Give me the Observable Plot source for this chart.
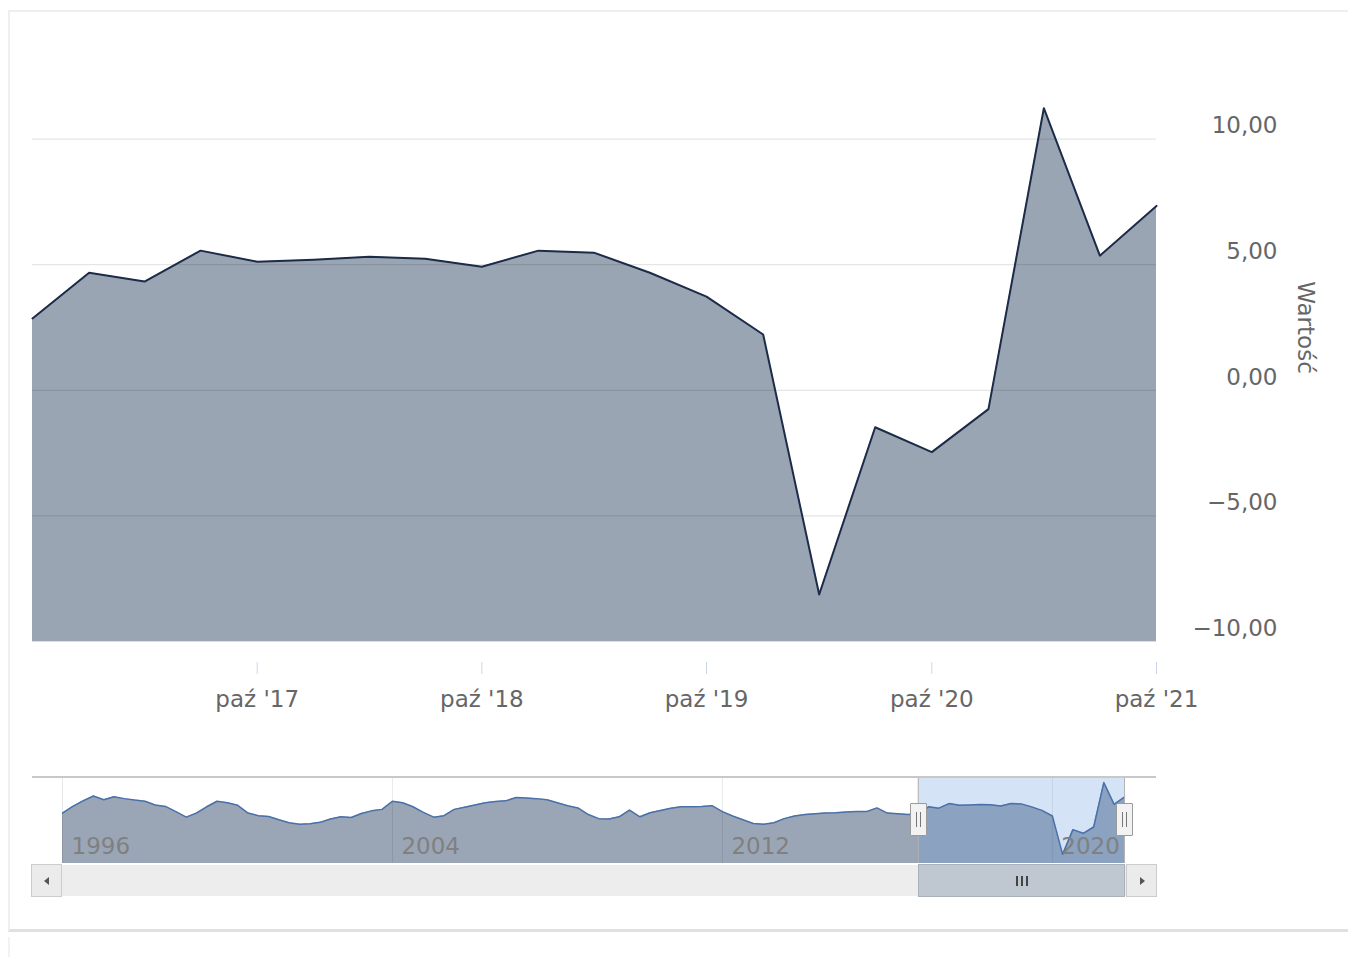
<!DOCTYPE html>
<html><head><meta charset="utf-8">
<script src="https://cdn.jsdelivr.net/npm/d3@7"></script>
<script src="https://cdn.jsdelivr.net/npm/@observablehq/plot@0.6"></script>
<style>
body{margin:0;background:#fff;font-family:"DejaVu Sans",sans-serif;}
#wrap{position:relative;width:1348px;height:957px;overflow:hidden;}
.abs{position:absolute;box-sizing:border-box;}
</style></head><body><div id="wrap">
<div class="abs" style="left:8px;top:10px;width:1400px;height:922px;border-left:2px solid #efefef;border-top:2px solid #efefef;border-bottom:3px solid #e0e0e0;"></div>
<div class="abs" style="left:8px;top:937px;width:1400px;height:40px;border-left:2px solid #f2f2f2;"></div>
<div id="main" class="abs" style="left:0;top:0"></div>
<div id="nav" class="abs" style="left:0;top:770px"></div>
<div id="chrome"></div>
</div>
<script>
// ---- main series (quarterly, y/y) ----
const mainQuarters = ["2016-10-01","2017-01-01","2017-04-01","2017-07-01","2017-10-01","2018-01-01","2018-04-01","2018-07-01","2018-10-01","2019-01-01","2019-04-01","2019-07-01","2019-10-01","2020-01-01","2020-04-01","2020-07-01","2020-10-01","2021-01-01","2021-04-01","2021-07-01","2021-10-01"];
const mainValues = [2.86,4.68,4.33,5.56,5.12,5.2,5.32,5.24,4.92,5.56,5.48,4.68,3.73,2.22,-8.13,-1.47,-2.46,-0.75,11.23,5.36,7.34];
const yTicks = [-10,-5,0,5,10];
const xTickDates = ["2017-10-01","2018-10-01","2019-10-01","2020-10-01","2021-10-01"];
const yTitle = "Wartość";

// ---- navigator history (quarterly from 1996 Q1 up to 2016 Q3) ----
const navStart = "1996-01-01";
const navValues = [
  3.0,4.8,6.3,7.6, 6.6,7.4,6.9,6.5, 6.2,5.2,4.8,3.4, 1.9,3.0,4.7,6.2,
  5.8,5.1,3.0,2.3, 2.1,1.2,0.4,0.0, 0.1,0.5,1.4,2.0, 1.8,2.9,3.6,4.0,
  6.2,5.8,4.7,3.2, 1.9,2.3,4.0,4.6, 5.2,5.8,6.1,6.3, 7.2,7.1,6.9,6.6,
  5.8,5.0,4.4,2.6, 1.5,1.4,2.0,3.8, 2.0,3.1,3.7,4.3, 4.7,4.7,4.8,5.0,
  3.4,2.2,1.2,0.2, 0.0,0.4,1.5,2.2, 2.6,2.8,3.0,3.1, 3.3,3.4,3.4,4.4,
  3.0,2.8,2.6
];
const navYearLabels = ["1996","2004","2012","2020"];

const fmtY = d => (d < 0 ? "\u2212" : "") + Math.abs(d).toFixed(2).replace(".", ",");
const fmtX = d => "paź '" + String(d.getUTCFullYear()).slice(2);

const mainData = mainQuarters.map((q, i) => ({date: new Date(q), value: mainValues[i]}));
const xTicks = xTickDates.map(d => new Date(d));
const font = '"DejaVu Sans", sans-serif';

const main = Plot.plot({
  width: 1348, height: 730,
  marginLeft: 32, marginRight: 192, marginTop: 13, marginBottom: 89,
  style: {fontFamily: font, fontSize: "23px", color: "#666", background: "transparent", overflow: "visible"},
  x: {type: "utc", domain: [mainData[0].date, mainData[mainData.length - 1].date], label: null},
  y: {domain: [-10, 15], label: null},
  marks: [
    Plot.areaY(mainData, {x: "date", y1: -10, y2: "value", fill: "#9aa5b4"}),
    Plot.gridY(yTicks, {stroke: "#000", strokeOpacity: 0.13}),
    Plot.lineY(mainData, {x: "date", y: "value", stroke: "#1c2b48", strokeWidth: 2}),
    Plot.axisY(yTicks, {anchor: "right", tickSize: 0, tickPadding: 121, textAnchor: "end", dy: -13, tickFormat: fmtY, fill: "#666", fontSize: 23, label: null}),
    Plot.axisX(xTicks, {anchor: "bottom", tickSize: 12, dy: 21, tickFormat: () => "", stroke: "#ccd6eb", label: null}),
    Plot.axisX(xTicks, {anchor: "bottom", tickSize: 0, tickPadding: 49, tickFormat: fmtX, fill: "#666", fontSize: 23, label: null}),
    Plot.text([yTitle], {frameAnchor: "right", dx: 149, rotate: 90, textAnchor: "middle", lineAnchor: "middle", fill: "#666", fontSize: 23})
  ]
});
document.getElementById("main").appendChild(main);

// navigator data
const d0 = new Date(navStart);
const navData = navValues.map((v, i) => ({date: d3.utcMonth.offset(d0, 3 * i), value: v})).concat(mainData);
const navYearDates = navYearLabels.map(y => new Date(y + "-01-01"));
const selStart = mainData[0].date, selEnd = mainData[mainData.length - 1].date;
const navBottom = -10.6;

const nav = Plot.plot({
  width: 1348, height: 100,
  marginLeft: 62, marginRight: 224, marginTop: 7, marginBottom: 7,
  style: {fontFamily: font, fontSize: "23px", background: "transparent", overflow: "visible"},
  x: {type: "utc", domain: [navData[0].date, navData[navData.length - 1].date], axis: null},
  y: {domain: [navBottom, 12.6], axis: null},
  marks: [
    Plot.areaY(navData, {x: "date", y1: navBottom, y2: "value", fill: "#9aa6b5"}),
    Plot.gridX(navYearDates, {stroke: "#000", strokeOpacity: 0.09}),
    Plot.rect([0], {x1: () => selStart, x2: () => selEnd, fill: "rgb(100,150,220)", fillOpacity: 0.27}),
    Plot.lineY(navData, {x: "date", y: "value", stroke: "#4a70aa", strokeWidth: 1.5}),
    Plot.text(navYearDates, {x: d => d, text: (d, i) => navYearLabels[i], frameAnchor: "bottom", textAnchor: "start", dx: 9, dy: -17, lineAnchor: "middle", fill: "#808080", fontSize: 23}),
    Plot.ruleX([selStart, selEnd], {stroke: "#b3b3b3"})
  ]
});
document.getElementById("nav").appendChild(nav);

// navigator chrome (outline, handles, scrollbar) positioned from the nav scale
const sx = nav.scale("x");
const xa = sx.apply(selStart), xb = sx.apply(selEnd);
const plotL = 32, plotR = 1156;
const ch = document.getElementById("chrome");
function box(style, parent = ch) {
  const el = document.createElement("div");
  el.className = "abs";
  el.setAttribute("style", style);
  parent.appendChild(el);
  return el;
}
// top outline
box(`left:${plotL}px;top:776px;width:${plotR - plotL}px;height:2px;background:#c8c8c8;`);
// scrollbar track
box(`left:${plotL}px;top:865px;width:${plotR - plotL}px;height:31px;background:#ededed;`);
// buttons
const lb = box(`left:${plotL - 1}px;top:864px;width:31px;height:33px;background:#ebebeb;border:1px solid #cccccc;`);
box(`left:12px;top:12px;width:0;height:0;border-top:4px solid transparent;border-bottom:4px solid transparent;border-right:5px solid #555;`, lb);
const rb = box(`left:${plotR - 30}px;top:864px;width:31px;height:33px;background:#ebebeb;border:1px solid #cccccc;`);
box(`left:13px;top:12px;width:0;height:0;border-top:4px solid transparent;border-bottom:4px solid transparent;border-left:5px solid #555;`, rb);
// thumb
const th = box(`left:${xa}px;top:864px;width:${xb - xa + 1}px;height:33px;background:#bfc8d1;border:1px solid #a9b1ba;`);
const cx = (xb - xa) / 2;
for (const o of [-5, 0, 5]) box(`left:${cx + o - 1}px;top:11px;width:2px;height:10px;background:#444;`, th);
// handles
for (const hx of [xa, xb]) {
  const h = box(`left:${hx - 8}px;top:803px;width:17px;height:33px;background:#f2f2f2;border:1px solid #9a9a9a;border-radius:1px;`);
  box(`left:5px;top:8px;width:1px;height:15px;background:#777;`, h);
  box(`left:9px;top:8px;width:1px;height:15px;background:#777;`, h);
}
</script>
</body></html>
